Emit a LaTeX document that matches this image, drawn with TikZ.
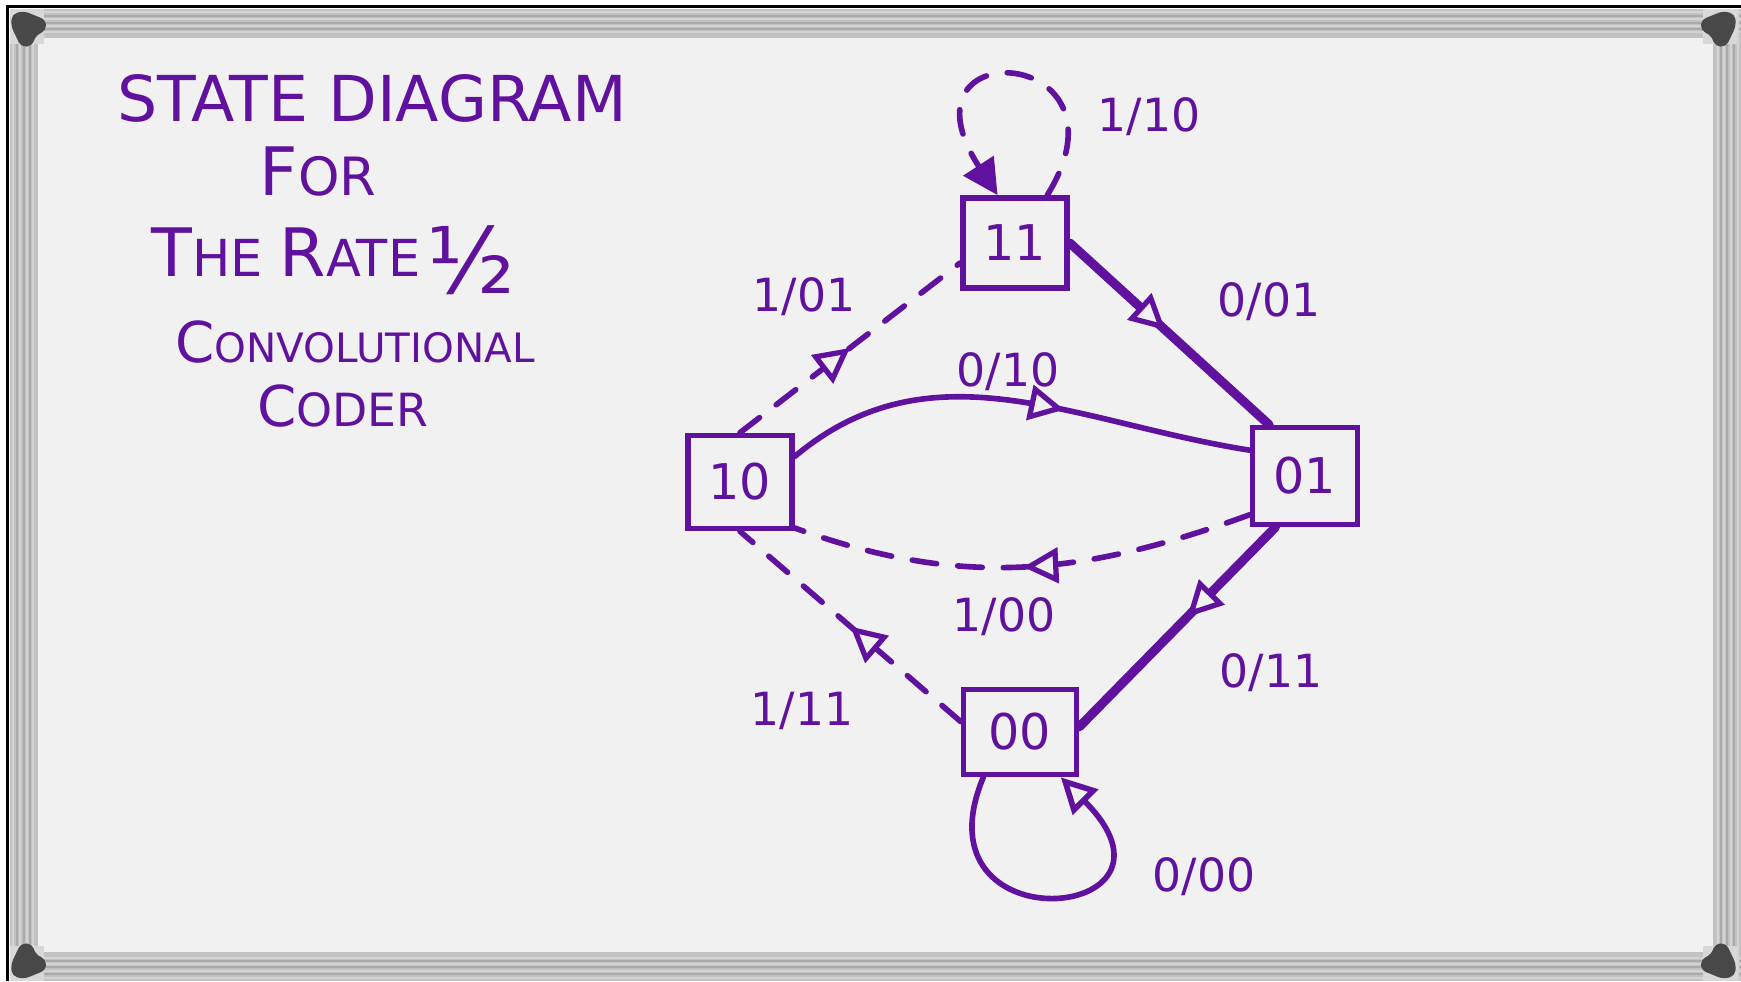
\documentclass[tikz,border=0pt]{standalone}
\usepackage{fontspec}
\setmainfont{DejaVu Sans}
\usetikzlibrary{arrows.meta,positioning,decorations.markings}
\definecolor{marker}{RGB}{96,18,158}
\definecolor{board}{RGB}{241,241,241}
\definecolor{rail}{RGB}{194,194,194}
\definecolor{railshade}{RGB}{170,170,170}
\definecolor{railhigh}{RGB}{212,212,212}
\definecolor{raillight}{RGB}{216,216,216}
\definecolor{knob}{RGB}{72,72,72}
\newcommand{\capsword}[4]{{\fontsize{#1}{#1}\selectfont #3}{\fontsize{#2}{#2}\selectfont #4}}

\begin{document}
\begin{tikzpicture}[x=0.01cm,y=-0.01cm,
    every node/.style={text=marker},
    state/.style={draw=marker,line width=1.6pt,inner sep=0pt,minimum width=1.04cm,minimum height=0.9cm,font=\fontsize{14}{14}\selectfont},
    edgelabel/.style={font=\fontsize{13}{13}\selectfont},
    title/.style={anchor=base},
    wire/.style={draw,color=marker,line width=1.6pt,line cap=round},
    heavy/.style={wire,line width=2.6pt},
    dashwire/.style={wire,dash pattern=on 7pt off 6pt},
    midarrow/.style={postaction={decorate,decoration={markings,mark=at position #1 with {\arrow[line width=1.5pt]{Triangle[length=10pt,width=10pt,fill=board]}}}}},
    midarrow/.default=0.5]
    \useasboundingbox (0,0) rectangle (1741,981);
    % whiteboard frame
    \fill[white] (0,0) rectangle (1741,981);
    \fill[black] (6,5) rectangle (1741,8);
    \fill[black] (6,5) rectangle (9,981);
    \fill[rail] (10,9) rectangle (1741,981);
    \foreach \y in {12,19,26,32} {
      \draw[railhigh,line width=0.8pt] (10,\y) -- (1741,\y);
      \draw[railhigh,line width=0.8pt] (10,981-\y+9) -- (1741,981-\y+9);
    }
    \foreach \y in {16,23,29} {
      \draw[railshade,line width=0.6pt] (10,\y) -- (1741,\y);
      \draw[railshade,line width=0.6pt] (10,981-\y+9) -- (1741,981-\y+9);
    }
    \foreach \x in {13,20,27,33} {
      \draw[railhigh,line width=0.8pt] (\x,9) -- (\x,981);
      \draw[railhigh,line width=0.8pt] (1751-\x,9) -- (1751-\x,981);
    }
    \foreach \x in {17,24,30} {
      \draw[railshade,line width=0.6pt] (\x,9) -- (\x,981);
      \draw[railshade,line width=0.6pt] (1751-\x,9) -- (1751-\x,981);
    }
    \fill[board] (38,38) rectangle (1713,952);
    \foreach \sx/\sy/\dx/\dy in {1/1/0/0,-1/1/1747/0,1/-1/0/990,-1/-1/1747/990} {
      \begin{scope}[shift={(\dx,\dy)},xscale=\sx,yscale=\sy]
        \fill[raillight] (10,9) rectangle (44,44);
        \fill[knob,rounded corners=1.5pt] (12,14) -- (24,11) -- (46,20) -- (46,31) -- (36,35) -- (32,46) -- (21,47) -- (11,26) -- cycle;
      \end{scope}
    }
    % heading
    \node[title] (t1) at (372,121) {\fontsize{18}{18}\selectfont STATE DIAGRAM};
    \node[title] (t2) at (318,195) {\capsword{19}{15}{F}{OR}};
    \node[title] (t3) at (333,276) {\capsword{19}{14.5}{T}{HE}\, \capsword{19}{14.5}{R}{ATE}\,\raisebox{-5pt}{\fontsize{26}{26}\selectfont ½}};
    \node[title] (t4) at (355,362) {\capsword{16}{11.5}{C}{ONVOLUTIONAL}};
    \node[title] (t5) at (343,426) {\capsword{16}{13}{C}{ODER}};
    % states
    \node[state] (s11) at (1015,243) {11};
    \node[state,minimum height=0.93cm] (s10) at (740,482) {10};
    \node[state,minimum width=1.05cm,minimum height=0.97cm] (s01) at (1305,476) {01};
    \node[state,minimum width=1.13cm,minimum height=0.85cm] (s00) at (1020,732) {00};
    % transitions
    \draw[dashwire,-{Triangle[length=10pt,width=10pt]}] (s11.56) .. controls (1140,45) and (890,30) .. (s11.110);
    \draw[heavy,midarrow=0.48] (s11.east) -- (s01.125);
    \draw[dashwire,midarrow] (s10.north) -- (s11.200);
    \draw[wire,midarrow=0.6] (s10.25) to[out=40,in=171] (s01.155);
    \draw[dashwire,midarrow] (s01.215) to[out=200,in=-20] (s10.320);
    \draw[heavy,midarrow=0.45] (s01.240) -- (s00.5);
    \draw[dashwire,midarrow] (s00.170) -- (s10.south);
    \draw[wire,-{Triangle[length=10pt,width=10pt,fill=board]}] (s00.231) .. controls (912,948) and (1205,922) .. (s00.312);
    % output labels
    \node[edgelabel] (l1) at (1149,117) {1/10};
    \node[edgelabel] (l2) at (1269,302) {0/01};
    \node[edgelabel] (l3) at (804,297) {1/01};
    \node[edgelabel] (l4) at (1008,372) {0/10};
    \node[edgelabel] (l5) at (1004,617) {1/00};
    \node[edgelabel] (l6) at (1271,673) {0/11};
    \node[edgelabel] (l7) at (802,711) {1/11};
    \node[edgelabel] (l8) at (1204,877) {0/00};
\end{tikzpicture}
\end{document}
